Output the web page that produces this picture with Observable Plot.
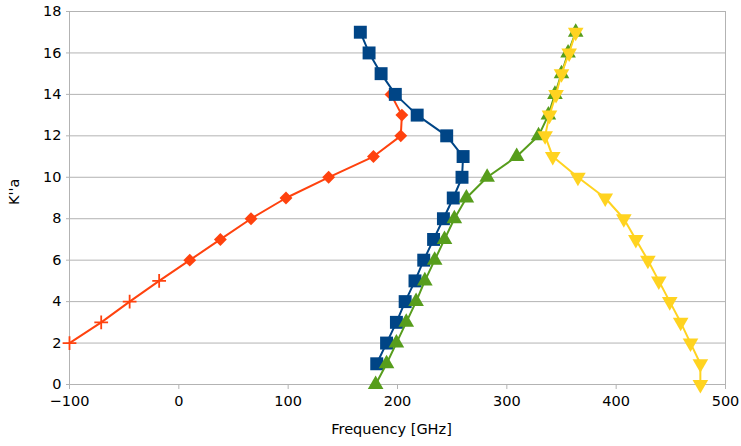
<!DOCTYPE html>
<html>
<head>
<meta charset="utf-8">
<script src="https://cdn.jsdelivr.net/npm/d3@7"></script>
<script src="https://cdn.jsdelivr.net/npm/@observablehq/plot@0.6"></script>
<style>
  html, body { margin: 0; padding: 0; background: #fff; }
</style>
</head>
<body>
<div id="chart"></div>
<script>
// ---- data ----
const xTicks = [-100, 0, 100, 200, 300, 400, 500];
const yTicks = [0, 2, 4, 6, 8, 10, 12, 14, 16, 18];

const kaOrange   = [2, 3, 4, 5, 6, 7, 8, 9, 10, 11, 12, 13, 14];
const freqOrange = [-100, -71, -45, -18, 10, 38, 66, 98, 137, 178, 203, 204, 194];
const markOrange = ["plus", "plus", "plus", "plus", "diamond", "diamond", "diamond", "diamond", "diamond", "diamond", "diamond", "diamond", "diamond"];

const kaBlue   = [1, 2, 3, 4, 5, 6, 7, 8, 9, 10, 11, 12, 13, 14, 15, 16, 17];
const freqBlue = [181, 190, 199, 207, 216, 224, 233, 242, 251, 259, 260, 245, 218, 198, 185, 174, 166];

const kaGreen   = [0, 1, 2, 3, 4, 5, 6, 7, 8, 9, 10, 11, 12, 13, 14, 15, 16, 17];
const freqGreen = [180, 190, 199, 208, 217, 225, 234, 243, 252, 263, 282, 309, 329, 338, 344, 350, 356, 363];

const kaYellow   = [0, 1, 2, 3, 4, 5, 6, 7, 8, 9, 10, 11, 12, 13, 14, 15, 16, 17];
const freqYellow = [477, 477, 468, 459, 449, 439, 429, 418, 407, 390, 365, 342, 335, 339, 345, 350, 357, 363];

const colors = {orange: "#ff420e", blue: "#004586", green: "#579d1c", yellow: "#ffd320"};

// ---- tables built from the arrays ----
const orange = kaOrange.map((k, i) => ({ka: k, freq: freqOrange[i], mark: markOrange[i]}));
const blue   = kaBlue.map((k, i) => ({ka: k, freq: freqBlue[i]}));
const green  = kaGreen.map((k, i) => ({ka: k, freq: freqGreen[i]}));
const yellow = kaYellow.map((k, i) => ({ka: k, freq: freqYellow[i]}));

// downward-pointing triangle symbol
const triangleDown = {
  draw(context, size) {
    const a = Math.sqrt(4 * size / Math.sqrt(3));
    const h = Math.sqrt(3) / 2 * a;
    context.moveTo(0, 2 * h / 3);
    context.lineTo(-a / 2, -h / 3);
    context.lineTo(a / 2, -h / 3);
    context.closePath();
  }
};

const chart = Plot.plot({
  width: 741,
  height: 446,
  marginLeft: 69,
  marginRight: 16,
  marginTop: 11,
  marginBottom: 62,
  style: {fontFamily: "DejaVu Sans", fontSize: "14.5px", color: "#000", background: "#fff"},
  x: {domain: [-100, 500]},
  y: {domain: [0, 18]},
  marks: [
    Plot.gridY(yTicks, {stroke: "#b3b3b3", strokeOpacity: 1, strokeWidth: 1}),
    Plot.frame({stroke: "#b3b3b3"}),
    Plot.axisY(yTicks, {tickSize: 3, tickPadding: 5, stroke: "#b3b3b3", strokeOpacity: 1, label: null}),
    Plot.axisX(xTicks, {tickSize: 5, tickPadding: 6, stroke: "#b3b3b3", strokeOpacity: 1, label: null}),

    Plot.line(orange, {x: "freq", y: "ka", stroke: colors.orange, strokeWidth: 2}),
    Plot.dot(orange.filter(d => d.mark === "plus"), {x: "freq", y: "ka", symbol: "plus", r: 4.5, stroke: colors.orange, strokeWidth: 1.8}),
    Plot.dot(orange.filter(d => d.mark === "diamond"), {x: "freq", y: "ka", symbol: "diamond2", r: 5.8, fill: colors.orange, stroke: "none"}),

    Plot.line(blue, {x: "freq", y: "ka", stroke: colors.blue, strokeWidth: 2}),
    Plot.dot(blue, {x: "freq", y: "ka", symbol: "square", r: 7.3, fill: colors.blue, stroke: "none"}),

    Plot.line(green, {x: "freq", y: "ka", stroke: colors.green, strokeWidth: 2}),
    Plot.dot(green, {x: "freq", y: "ka", symbol: "triangle", r: 5.8, fill: colors.green, stroke: "none"}),

    Plot.line(yellow, {x: "freq", y: "ka", stroke: colors.yellow, strokeWidth: 2}),
    Plot.dot(yellow, {x: "freq", y: "ka", symbol: triangleDown, r: 5.8, fill: colors.yellow, stroke: "none"}),

    Plot.text(["K''a"], {frameAnchor: "left", dx: -55, dy: 7, rotate: -90, fontSize: 14.5}),
    Plot.text(["Frequency [GHz]"], {frameAnchor: "bottom", dx: -6, dy: 49, fontSize: 14.5})
  ]
});

document.getElementById("chart").appendChild(chart);
</script>
</body>
</html>
